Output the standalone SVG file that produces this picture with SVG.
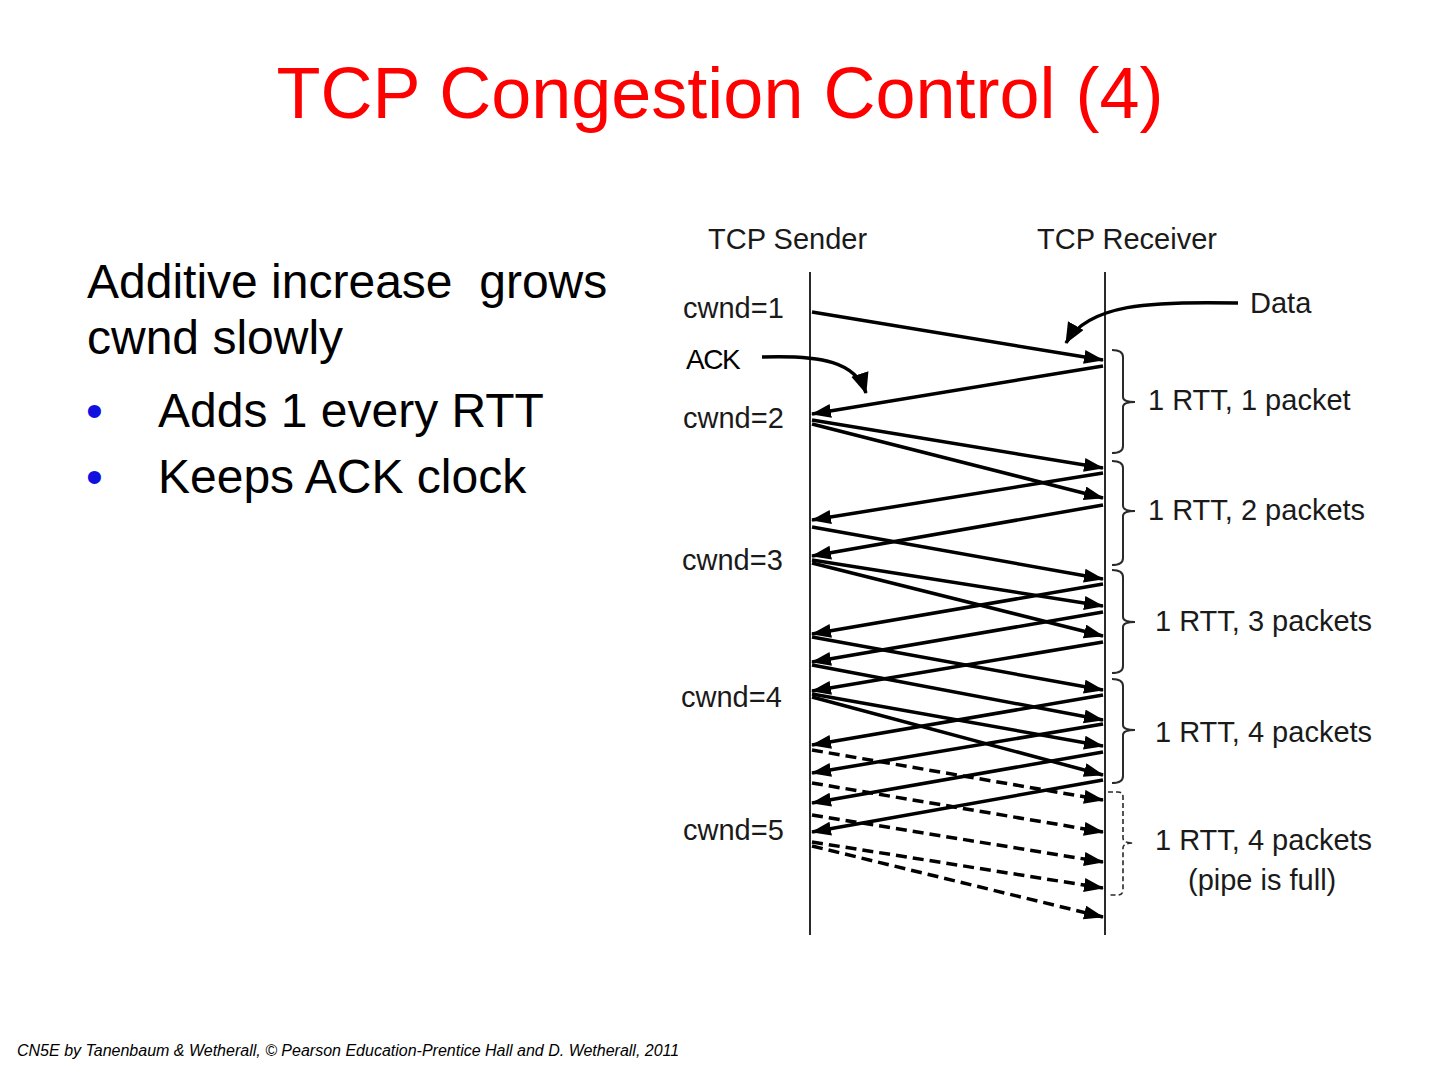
<svg xmlns="http://www.w3.org/2000/svg" width="1440" height="1080" viewBox="0 0 1440 1080">
<defs>
<style>
.title{font-family:"Liberation Sans",Arial,sans-serif;font-size:72px;fill:#ff0000}
.body{font-family:"Liberation Sans",Arial,sans-serif;font-size:48px;fill:#000;white-space:pre}
.bul{font-family:"Liberation Sans",Arial,sans-serif;font-size:48px;fill:#1010e0}
.lbl{font-family:"Liberation Sans",Arial,sans-serif;font-size:29px;fill:#1a1a1a}
.foot{font-family:"Liberation Sans",Arial,sans-serif;font-size:16px;font-style:italic;fill:#000}
.life{stroke:#2a2a2a;stroke-width:2;fill:none}
.msg{stroke:#000;stroke-width:3.5;fill:none;marker-end:url(#ah)}
.dash{stroke-dasharray:11,6}
.brace{stroke:#2a2a2a;stroke-width:2;fill:none}
.brace-d{stroke:#2a2a2a;stroke-width:1.6;fill:none;stroke-dasharray:5,3}
.call{stroke:#000;stroke-width:3.5;fill:none;marker-end:url(#ah2)}
</style>
<marker id="ah" markerUnits="userSpaceOnUse" markerWidth="22" markerHeight="16" refX="19" refY="7" orient="auto">
<path d="M0,0 L20,7 L0,14 z" fill="#000"/>
</marker>
<marker id="ah2" markerUnits="userSpaceOnUse" markerWidth="24" markerHeight="20" refX="20" refY="9" orient="auto">
<path d="M0,0 L21,9 L0,18 z" fill="#000"/>
</marker>
</defs>
<rect width="1440" height="1080" fill="#fff"/>
<g id="title"><text class="title" x="720" y="118" text-anchor="middle">TCP Congestion Control (4)</text></g>
<g id="bodytext">
<text class="body" x="87" y="298" xml:space="preserve">Additive increase  grows</text>
<text class="body" x="87" y="354">cwnd slowly</text>
<text class="bul" x="86" y="427">•</text>
<text class="body" x="158" y="427">Adds 1 every RTT</text>
<text class="bul" x="86" y="493">•</text>
<text class="body" x="158" y="493">Keeps ACK clock</text>
</g>
<g id="sender">
<text class="lbl" x="708" y="249">TCP Sender</text>
<line class="life" x1="810" y1="272" x2="810" y2="935"/>
</g>
<g id="receiver">
<text class="lbl" x="1037" y="249">TCP Receiver</text>
<line class="life" x1="1105" y1="272" x2="1105" y2="935"/>
</g>
<g id="cwnd-labels">
<text class="lbl" x="683" y="318">cwnd=1</text>
<text class="lbl" x="683" y="428">cwnd=2</text>
<text class="lbl" x="682" y="570">cwnd=3</text>
<text class="lbl" x="681" y="707">cwnd=4</text>
<text class="lbl" x="683" y="840">cwnd=5</text>
<text class="lbl" x="1250" y="313">Data</text>
<text x="686" y="369" font-family="'Liberation Sans',Arial,sans-serif" font-size="28" letter-spacing="-1.5" fill="#000">ACK</text>
</g>
<g id="rtt-labels">
<text class="lbl" x="1148" y="410">1 RTT, 1 packet</text>
<text class="lbl" x="1148" y="520">1 RTT, 2 packets</text>
<text class="lbl" x="1155" y="631">1 RTT, 3 packets</text>
<text class="lbl" x="1155" y="742">1 RTT, 4 packets</text>
<text class="lbl" x="1155" y="850">1 RTT, 4 packets</text>
<text class="lbl" x="1188" y="890">(pipe is full)</text>
</g>
<g id="braces">
<path class="brace" d="M1112,350 Q1123,350 1123,357 L1123,397 Q1123,402 1135,402 Q1123,402 1123,407 L1123,446 Q1123,453 1112,453"/>
<path class="brace" d="M1112,461 Q1123,461 1123,468 L1123,506 Q1123,511 1135,511 Q1123,511 1123,516 L1123,558 Q1123,565 1112,565"/>
<path class="brace" d="M1112,570 Q1123,570 1123,577 L1123,617 Q1123,622 1135,622 Q1123,622 1123,627 L1123,666 Q1123,673 1112,673"/>
<path class="brace" d="M1112,679 Q1123,679 1123,686 L1123,725 Q1123,730 1135,730 Q1123,730 1123,735 L1123,776 Q1123,783 1112,783"/>
<path class="brace-d" d="M1108,792 L1118,792 Q1123,792 1123,797 L1123,838 Q1123,843 1133,843 Q1123,843 1123,848 L1123,890 Q1123,895 1118,895 L1108,895"/>
</g>
<g id="connectors">
<path class="call" d="M1238,303 C1150,301 1088,304 1066,343"/>
<path class="call" d="M762,357 C822,355 856,362 866,393"/>
<line class="msg" x1="812" y1="312" x2="1103" y2="360"/>
<line class="msg" x1="1103" y1="366" x2="812" y2="414"/>
<line class="msg" x1="812" y1="420" x2="1103" y2="468"/>
<line class="msg" x1="812" y1="424" x2="1103" y2="498"/>
<line class="msg" x1="1103" y1="473" x2="812" y2="520"/>
<line class="msg" x1="1103" y1="505" x2="812" y2="556"/>
<line class="msg" x1="812" y1="527" x2="1103" y2="579"/>
<line class="msg" x1="812" y1="560" x2="1103" y2="606"/>
<line class="msg" x1="812" y1="563" x2="1103" y2="636"/>
<line class="msg" x1="1103" y1="584" x2="812" y2="634"/>
<line class="msg" x1="1103" y1="612" x2="812" y2="662"/>
<line class="msg" x1="1103" y1="642" x2="812" y2="691"/>
<line class="msg" x1="812" y1="637" x2="1103" y2="690"/>
<line class="msg" x1="812" y1="665" x2="1103" y2="720"/>
<line class="msg" x1="812" y1="694" x2="1103" y2="746"/>
<line class="msg" x1="812" y1="697" x2="1103" y2="775"/>
<line class="msg" x1="1103" y1="695" x2="812" y2="745"/>
<line class="msg" x1="1103" y1="724" x2="812" y2="773"/>
<line class="msg" x1="1103" y1="752" x2="812" y2="803"/>
<line class="msg" x1="1103" y1="780" x2="812" y2="832"/>
<line class="msg dash" x1="812" y1="750" x2="1103" y2="800"/>
<line class="msg dash" x1="812" y1="783" x2="1103" y2="832"/>
<line class="msg dash" x1="812" y1="815" x2="1103" y2="862"/>
<line class="msg dash" x1="812" y1="842" x2="1103" y2="888"/>
<line class="msg dash" x1="812" y1="846" x2="1103" y2="917"/>
</g>
<g id="footer"><text class="foot" x="17" y="1056">CN5E by Tanenbaum &amp; Wetherall, © Pearson Education-Prentice Hall and D. Wetherall, 2011</text></g>
</svg>
